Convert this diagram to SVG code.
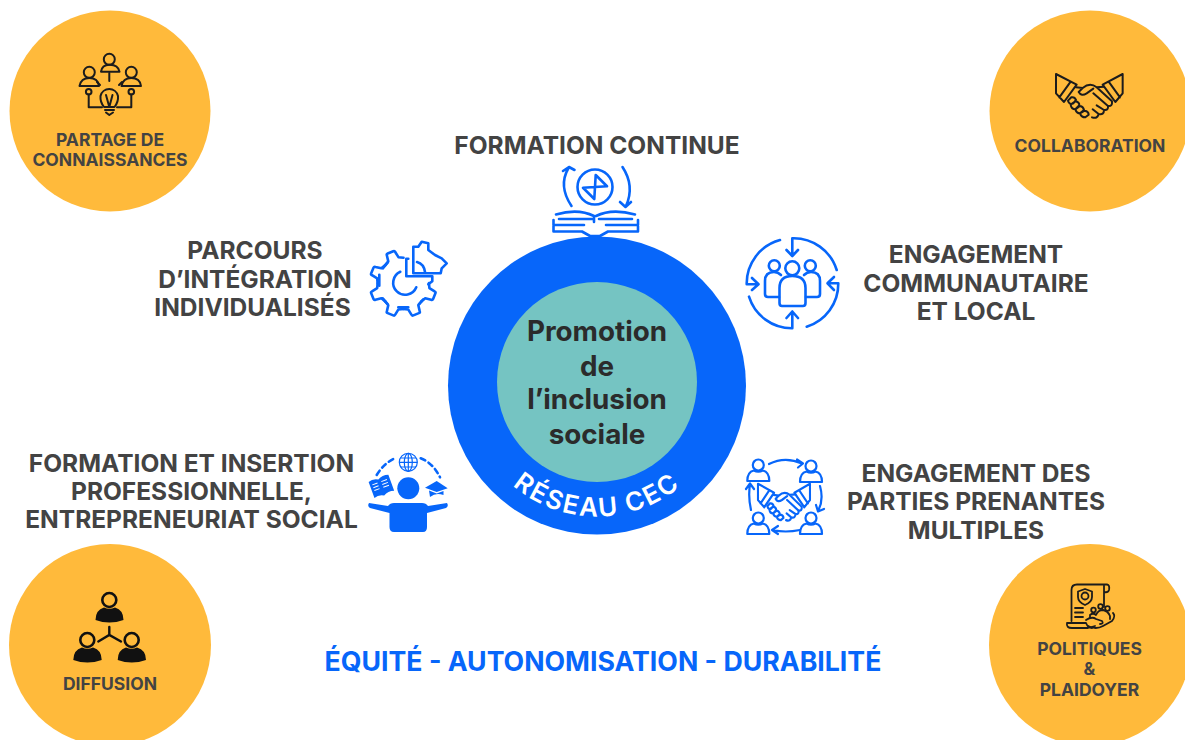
<svg xmlns="http://www.w3.org/2000/svg" xmlns:xlink="http://www.w3.org/1999/xlink" width="1185" height="740" viewBox="0 0 1185 740">
<style>
.lbl{font-family:Inter,"Liberation Sans",Arial,sans-serif;font-weight:700;fill:#434343;text-anchor:middle}
.big{font-size:24.500px}
.small{font-size:17.500px}
.core{font-family:Inter,"Liberation Sans",sans-serif;font-weight:700;font-size:27.800px;fill:#2b2b2b;text-anchor:middle}
.yc{fill:#FFBA3B}
.bl{fill:none;stroke:#0766FA;stroke-width:2.600;stroke-linecap:round;stroke-linejoin:round}
.bf{fill:#0766FA;stroke:none}
.k{fill:none;stroke:#1c1c1c;stroke-width:2;stroke-linecap:round;stroke-linejoin:round}
.kf{fill:#111;stroke:none}
</style>
<defs>
<path id="arc" d="M466,385.500 A131,131 0 0 0 728,385.500"/>
<g id="shake">
<path d="M48,42 L110,74 L72,126 L48,100 Z M92,65 L58,112 M248,42 L188,74 L226,126 L248,100 Z M206,65 L240,112"/>
<path d="M108,82 L128,84 Q150,66 170,82 L192,80 M170,82 L216,124 Q218,140 204,138 L160,100 M128,84 L116,96 Q124,110 140,100 L160,86"/>
<path d="M204,138 Q206,152 192,150 L170,136 M192,150 Q192,166 176,162 L158,148 M176,162 Q172,178 156,172"/>
<path d="M84,122 L94,112 Q104,110 108,120 L100,130 Q88,136 84,122 Z M92,134 L106,124 Q118,126 118,136 L106,148 Q94,148 92,134 Z M106,148 L120,138 Q130,140 132,150 L120,160 Q110,160 106,148 Z M120,160 L134,152 Q146,154 146,164 L136,172 Q124,172 120,160 Z"/>
</g>
<g id="person6"><circle cx="0" cy="-5" r="5.500"/><path d="M-11,11 Q-11,2 -4.500,0.500 Q0,3 4.500,0.500 Q11,2 11,11 Z"/></g>
<path id="tooth" d="M-10,-23.600 L-5.500,-26 L-4.500,-32 Q-4.500,-33.500 -3,-33.500 L3,-33.500 Q4.500,-33.500 4.500,-32 L5.500,-26 L10,-23.600"/>
</defs>

<g id="node-partage">
<circle class="yc" cx="110" cy="111" r="100.500"/>
<g class="k">
<circle cx="109.300" cy="59.300" r="5.500"/><path d="M101,71.700 H119.500 Q118,64.500 109.300,64.800 Q102,65 101,71.700 Z"/>
<circle cx="89.300" cy="72.300" r="5.500"/><path d="M79.500,86 H99 Q98,78 89.300,78 Q81,78 79.500,86 Z"/>
<circle cx="131.300" cy="72.300" r="5.500"/><path d="M121.500,86 H141 Q140,78 131.300,78 Q123,78 121.500,86 Z"/>
<path d="M104,107 Q100,102 100.500,96 A9,9 0 0 1 118,96 Q118.500,102 114.500,107 Z M105,110 H114 M106,112.500 L109.300,115 L113,112.500 M106,95 L109.300,107 L112.500,95"/>
<circle cx="88.700" cy="91.700" r="2.800"/><circle cx="131.300" cy="91.700" r="2.800"/>
<path d="M88.700,94.500 V107.300 H102 M131.300,94.500 V107.300 H117 M109.300,73 V81 M97,82 L100,85 M122,82 L119,85"/>
</g>
<text class="lbl small" x="110" y="146">PARTAGE DE</text>
<text class="lbl small" x="110" y="166">CONNAISSANCES</text>
</g>

<g id="node-collaboration">
<circle class="yc" cx="1090" cy="111" r="100.500"/>
<use xlink:href="#shake" class="k" transform="translate(1040,60) scale(.3333)" style="stroke-width:6"/>
<text class="lbl small" x="1090" y="151.500">COLLABORATION</text>
</g>

<g id="node-diffusion">
<circle class="yc" cx="110" cy="645" r="101"/>
<circle cx="109.300" cy="600" r="7" fill="none" stroke="#111" stroke-width="2.600"/>
<path class="kf" d="M95.500,620 Q95.500,610 104,607.500 Q109.300,610 115,607.500 Q123.500,610 123.500,620 Q109.300,625 95.500,620 Z"/>
<circle cx="87.300" cy="640" r="7" fill="none" stroke="#111" stroke-width="2.600"/>
<path class="kf" d="M73.300,660 Q73.300,650 82,647.500 Q87.300,650 93,647.500 Q101.700,650 101.700,660 Q87.300,665 73.300,660 Z"/>
<circle cx="131.700" cy="640" r="7" fill="none" stroke="#111" stroke-width="2.600"/>
<path class="kf" d="M117.700,660 Q117.700,650 126,647.500 Q131.700,650 137,647.500 Q146,650 146,660 Q131.700,665 117.700,660 Z"/>
<path d="M109.300,627 V635 M98.300,641.500 L109.300,635 L121,641.500" fill="none" stroke="#111" stroke-width="2.400" stroke-linecap="round"/>
<text class="lbl small" x="110" y="690">DIFFUSION</text>
</g>

<g id="node-politiques">
<circle class="yc" cx="1090" cy="645" r="101"/>
<g class="k" style="stroke-width:1.800">
<path d="M1071.500,621 V590 Q1071.500,584.500 1077,584.500 H1107 Q1110,585 1109,590 Q1108,593 1104,592 M1104,586 V607"/>
<path d="M1067,623 Q1066,628 1072,628 H1088 L1095,626 M1067,623 H1086 Q1088,628 1092,628"/>
<path d="M1085,589 L1092,591.500 V597 Q1092,602 1085,605 Q1078,602 1078,597 V591.500 Z"/>
<circle cx="1085" cy="596" r="3.500"/>
<path d="M1075,608 H1083 M1075,612.500 H1083 M1075,617 H1083"/>
<circle cx="1093.500" cy="610" r="2.300"/><circle cx="1100.500" cy="606.500" r="2.300"/><circle cx="1107.500" cy="608.500" r="2.300"/>
<path d="M1090,618 V615 Q1093,612.500 1096,615 Q1098,610 1103,610 Q1108,611 1110,616 V619"/>
<path d="M1086,620 Q1092,616 1096,619 L1102,621 Q1104,624 1100,624 M1088,626 Q1096,630 1103,626 L1112,621 Q1116,616 1113,613"/>
</g>
<text class="lbl small" x="1089.500" y="655">POLITIQUES</text>
<text class="lbl small" x="1089.500" y="675">&amp;</text>
<text class="lbl small" x="1089.500" y="696">PLAIDOYER</text>
</g>

<g id="node-formation-continue">
<text class="lbl big" x="597" y="154">FORMATION CONTINUE</text>
<g class="bl">
<circle cx="595" cy="187" r="17.500"/>
<path d="M587,178 H603 L587,196 H603 Z" transform="rotate(45 595 187)"/>
<path d="M571.500,206 Q558,186 568.500,168 M563,171 L569,167 L574.500,170 M622.500,167 Q635,186 626,206 M620,202 L625.500,207 L631,202"/>
<path d="M556,214.500 Q578,208 594,216 V222 M596,216 Q612,208 635,214.500 M559,219 H592 M599,219 H632"/>
<path d="M553.500,220 V225 H584 M638,220 V225 H606 M553.500,226 V231.500 H582 L590,236 H600 L608,231.500 H638 V226"/>
</g>
</g>

<g id="node-parcours">
<text class="lbl big" x="255" y="259">PARCOURS</text>
<text class="lbl big" x="255" y="288">D’INTÉGRATION</text>
<text class="lbl big" x="252.500" y="316">INDIVIDUALISÉS</text>
<g class="bl" transform="translate(403.300,283.300)">
<use xlink:href="#tooth" transform="rotate(-22.500)"/>
<use xlink:href="#tooth" transform="rotate(-67.500)"/>
<use xlink:href="#tooth" transform="rotate(-112.500)"/>
<use xlink:href="#tooth" transform="rotate(-157.500)"/>
<use xlink:href="#tooth" transform="rotate(157.500)"/>
<use xlink:href="#tooth" transform="rotate(112.500)"/>
<path d="M-15.500,-21 L-20.500,-15 M-24,-8.500 L-24,2.500 M-20.500,15 L-15.500,21 M-5,24 L5,24 M15.500,21 L20,16 M5,-24.500 H3 V-7 H29 V-2 L25,1"/>
<path d="M-3,-11.500 A12,12 0 1 0 13,4" />
</g>
<g class="bl">
<path d="M413.300,273.300 V246.700 H418.300 L421.700,241.700 L428.300,243.300 L428.300,250 L435,255 L441.700,258.300 L446.700,263.300 L441.700,268.300 L440.700,273.300 Z"/>
<path d="M417,262 Q424,264 425,272"/>
</g>
</g>

<g id="node-engagement-local">
<text class="lbl big" x="976" y="263">ENGAGEMENT</text>
<text class="lbl big" x="976" y="292">COMMUNAUTAIRE</text>
<text class="lbl big" x="976" y="320">ET LOCAL</text>
<g class="bl">
<path d="M780,240 A45,45 0 0 0 746.700,284.300 H758 M752,278 L758.500,284.300 L752,290"/>
<path d="M836.700,270 A45,45 0 0 0 792.300,238.300 V255 M786.500,250 L792.300,256 L798,250"/>
<path d="M806.700,326.700 A45,45 0 0 0 838.300,283.300 H828 M834,277 L827.500,283.300 L834,290"/>
<path d="M749,296.700 A45,45 0 0 0 792.300,328.300 V312 M786.500,318 L792.300,311.500 L798,318"/>
<circle cx="792.300" cy="268.300" r="7"/><circle cx="774.300" cy="265.700" r="5.500"/><circle cx="810.300" cy="265.700" r="5.500"/>
<path d="M782,306 Q779.500,306 779.500,303 V288 Q779.500,276 792.300,276 Q805.500,276 805.500,288 V303 Q805.500,306 803,306 Z"/>
<path d="M779,297 H768 Q765,297 765,294 V281 Q765,272 774,272 Q778,272 781,275 M806,297 H817 Q820,297 820,294 V281 Q820,272 811,272 Q807,272 804,275"/>
</g>
</g>

<g id="node-insertion">
<text class="lbl big" x="191.500" y="472">FORMATION ET INSERTION</text>
<text class="lbl big" x="191.500" y="500">PROFESSIONNELLE,</text>
<text class="lbl big" x="191.500" y="528">ENTREPRENEURIAT SOCIAL</text>
<circle class="bf" cx="408.300" cy="488.300" r="11"/>
<path class="bf" d="M369,503 Q367,506 370,508 L389.500,513 V527 Q389.500,532 394,532 H423 Q427,532 427,527 V513 L446,508 Q449,506 447,503 L428,506 Q426,503 422,503 H394 Q390,503 388,506 Z"/>
<g fill="none" stroke="#0766FA" stroke-width="1.200">
<circle cx="408.300" cy="462.300" r="9"/><ellipse cx="408.300" cy="462.300" rx="4" ry="9"/><path d="M399.300,462.300 H417.300 M400.500,458 H416 M400.500,467 H416 M408.300,453 V471"/>
</g>
<path d="M376.700,475 Q384,463 395,458.300 M420.700,458.300 Q433,463 440,477.300" fill="none" stroke="#0766FA" stroke-width="2.600" stroke-linecap="round" stroke-dasharray="5 4"/>
<g transform="rotate(-20 381 486.700)">
<path class="bf" d="M371,478 Q376,476 381,479 Q386,476 392,478 V495 Q386,493 381,496 Q376,493 371,495 Z"/>
<path d="M373.500,482 H379 M373.500,485 H379 M373.500,488 H379 M383,482 H389 M383,485 H389 M383,488 H389" stroke="#fff" stroke-width="1" fill="none"/>
</g>
<path class="bf" d="M425,487.700 L436.700,481 L447.700,488.300 L436.700,492 Z"/>
<path class="bf" d="M429,490.500 L436.700,493.500 L443.500,491 V495 Q436,492 430,497 Z"/>
</g>

<g id="node-parties">
<text class="lbl big" x="976" y="482">ENGAGEMENT DES</text>
<text class="lbl big" x="976" y="510">PARTIES PRENANTES</text>
<text class="lbl big" x="976" y="539">MULTIPLES</text>
<g class="bl" style="stroke-width:2.200">
<use xlink:href="#person6" transform="translate(758.300,470)"/>
<use xlink:href="#person6" transform="translate(811,471)"/>
<use xlink:href="#person6" transform="translate(758.300,523)"/>
<use xlink:href="#person6" transform="translate(811,523)"/>
<path d="M769,464 Q785,456 802,463.500 M797,459.500 L803,463.500 L798,467.500"/>
<path d="M820,486 Q824,500 818,511 M816,505 L818,511.500 L824,509"/>
<path d="M800,530 Q785,533 773,530 M778,526 L772,530 L778,534"/>
<path d="M751,510 Q748,497 750,484 M746,489 L750,483.500 L754,489"/>
<g transform="translate(745.500,472) scale(.26 .28)" style="stroke-width:8">
<use xlink:href="#shake"/>
</g>
</g>
</g>

<g id="node-hub">
<circle cx="597" cy="385.500" r="149" fill="#0766FA"/>
<circle cx="597" cy="382" r="100" fill="#75C4C2"/>
<text class="core" x="597" y="341">Promotion</text>
<text class="core" x="597" y="375.500">de</text>
<text class="core" x="597" y="409">l’inclusion</text>
<text class="core" x="597" y="444">sociale</text>
<text font-family="Inter,'Liberation Sans',sans-serif" font-weight="600" font-size="26" letter-spacing="2" fill="#fff" text-anchor="middle"><textPath xlink:href="#arc" startOffset="50%">RÉSEAU CEC</textPath></text>
</g>

<text id="values" x="603" y="670.500" font-family="Inter,'Liberation Sans',Arial,sans-serif" font-weight="700" font-size="26.700" fill="#0766FA" text-anchor="middle">ÉQUITÉ - AUTONOMISATION - DURABILITÉ</text>
<g id="connectors"/>
</svg>
